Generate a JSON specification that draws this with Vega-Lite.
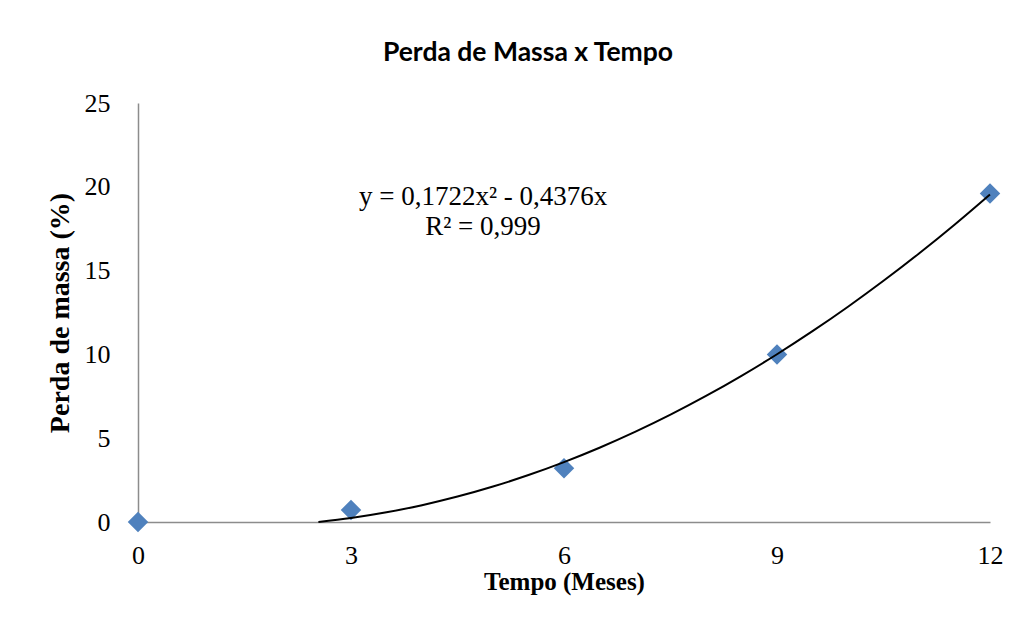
{
  "$schema": "https://vega.github.io/schema/vega-lite/v6.json",
  "width": 852,
  "height": 419,
  "autosize": {"type": "none"},
  "padding": {"left": 138, "top": 103, "right": 30, "bottom": 119},
  "background": "white",
  "title": {
    "text": "Perda de Massa x Tempo",
    "font": "Lato",
    "fontSize": 26.5,
    "fontWeight": "bold",
    "color": "black",
    "anchor": "middle",
    "dx": -36,
    "offset": 24
  },
  "config": {
    "view": {"stroke": null},
    "axis": {
      "domainColor": "#8c8c8c",
      "domainWidth": 1.5,
      "ticks": false,
      "tickSize": 0,
      "grid": false,
      "labelFlush": false,
      "labelFont": "Liberation Serif",
      "labelFontSize": 26,
      "labelColor": "black",
      "titleFont": "Liberation Serif",
      "titleFontWeight": "bold",
      "titleColor": "black"
    }
  },
  "datasets": {
    "pontos": [
      {"tempo": 0, "perda": 0},
      {"tempo": 3, "perda": 0.72},
      {"tempo": 6, "perda": 3.2},
      {"tempo": 9, "perda": 10.0},
      {"tempo": 12, "perda": 19.6}
    ],
    "tendencia": [
      {"tempo": 2.541, "perda": 0},
      {"tempo": 3, "perda": 0.237},
      {"tempo": 3.5, "perda": 0.578},
      {"tempo": 4, "perda": 1.005},
      {"tempo": 4.5, "perda": 1.518},
      {"tempo": 5, "perda": 2.117},
      {"tempo": 5.5, "perda": 2.802},
      {"tempo": 6, "perda": 3.574},
      {"tempo": 6.5, "perda": 4.431},
      {"tempo": 7, "perda": 5.375},
      {"tempo": 7.5, "perda": 6.404},
      {"tempo": 8, "perda": 7.52},
      {"tempo": 8.5, "perda": 8.722},
      {"tempo": 9, "perda": 10.01},
      {"tempo": 9.5, "perda": 11.384},
      {"tempo": 10, "perda": 12.844},
      {"tempo": 10.5, "perda": 14.39},
      {"tempo": 11, "perda": 16.023},
      {"tempo": 11.5, "perda": 17.741},
      {"tempo": 12, "perda": 19.546}
    ],
    "equacao": [
      {"tempo": 4.86, "perda": 18.92, "texto": "y = 0,1722x² - 0,4376x"},
      {"tempo": 4.86, "perda": 17.1, "texto": "R² = 0,999"}
    ]
  },
  "layer": [
    {
      "data": {"name": "pontos"},
      "mark": {"type": "point", "shape": "diamond", "filled": true, "size": 420, "color": "#4F81BD", "opacity": 1},
      "encoding": {
        "x": {
          "field": "tempo", "type": "quantitative",
          "scale": {"domain": [0, 12], "nice": false, "zero": false},
          "axis": {"values": [0, 3, 6, 9, 12], "format": "d", "title": "Tempo (Meses)", "titleFontSize": 25, "labelPadding": 20, "titlePadding": 1}
        },
        "y": {
          "field": "perda", "type": "quantitative",
          "scale": {"domain": [0, 25], "nice": false},
          "axis": {"values": [0, 5, 10, 15, 20, 25], "format": "d", "title": "Perda de massa (%)", "titleFontSize": 28, "labelPadding": 28, "titlePadding": 10}
        }
      }
    },
    {
      "data": {"name": "tendencia"},
      "mark": {"type": "line", "color": "black", "strokeWidth": 2, "interpolate": "monotone"},
      "encoding": {
        "x": {"field": "tempo", "type": "quantitative"},
        "y": {"field": "perda", "type": "quantitative"}
      }
    },
    {
      "data": {"name": "equacao"},
      "mark": {"type": "text", "font": "Liberation Serif", "fontSize": 27, "color": "black", "align": "center", "baseline": "alphabetic"},
      "encoding": {
        "x": {"field": "tempo", "type": "quantitative"},
        "y": {"field": "perda", "type": "quantitative"},
        "text": {"field": "texto", "type": "nominal"}
      }
    }
  ]
}
